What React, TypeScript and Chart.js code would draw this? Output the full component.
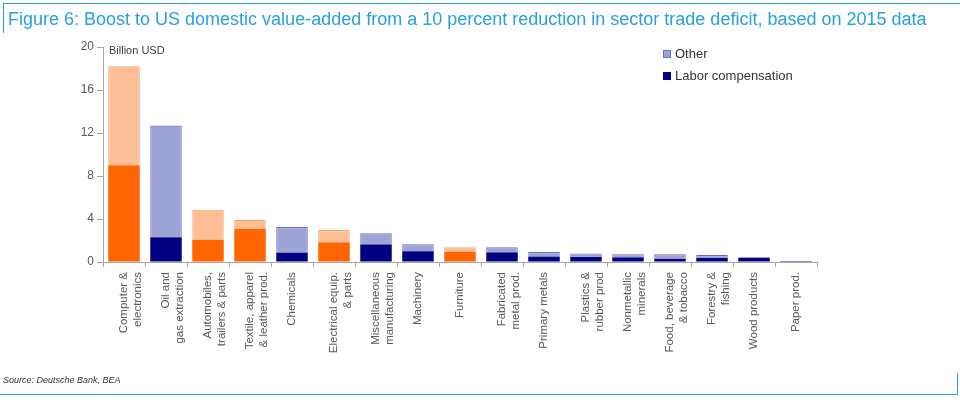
import React, { useEffect, useRef } from "react";
import { Chart, registerables } from "chart.js";

Chart.register(...registerables);

const categories: (string | string[])[] = [
  ["Computer &", "electronics"],
  ["Oil and", "gas extraction"],
  ["Automobiles,", "trailers & parts"],
  ["Textile, apparel", "& leather prod."],
  "Chemicals",
  ["Electrical equip.", "& parts"],
  ["Miscellaneous", "manufacturing"],
  "Machinery",
  "Furniture",
  ["Fabricated", "metal prod."],
  "Primary metals",
  ["Plastics &", "rubber prod"],
  ["Nonmetallic", "minerals"],
  ["Food, beverage", "& tobacco"],
  ["Forestry &", "fishing"],
  "Wood products",
  "Paper prod.",
];

const laborCompensation = [9.0, 2.3, 2.05, 3.1, 0.87, 1.83, 1.64, 1.0, 0.97, 0.9, 0.5, 0.48, 0.43, 0.3, 0.37, 0.4, 0.02];
const otherValueAdded = [9.2, 10.4, 2.82, 0.83, 2.38, 1.15, 1.03, 0.64, 0.4, 0.47, 0.43, 0.32, 0.3, 0.42, 0.28, 0.05, 0.1];
const highlighted = [true, false, true, true, false, true, false, false, true, false, false, false, false, false, false, false, false];

const yTicks = [0, 4, 8, 12, 16, 20];

const NAVY = "#000080";
const LAVENDER = "#9EA3D6";
const LAVENDER_BORDER = "#6A70C2";
const ORANGE = "#FF6600";
const LIGHT_ORANGE = "#FCBE97";
const LIGHT_ORANGE_BORDER = "#F9A470";
const AXIS = "#A6A6A6";
const TEXT = "#595959";

const legendPlugin = {
  id: "customLegend",
  afterDraw(chart: any) {
    const ctx = chart.ctx;
    ctx.save();
    const items = [
      { label: "Other", fill: LAVENDER, stroke: LAVENDER_BORDER, y: 54 },
      { label: "Labor compensation", fill: NAVY, stroke: NAVY, y: 76 },
    ];
    ctx.font = "13px 'Liberation Sans', Arial, sans-serif";
    ctx.textBaseline = "middle";
    for (const it of items) {
      ctx.fillStyle = it.fill;
      ctx.fillRect(663, it.y - 4, 8, 8);
      ctx.strokeStyle = it.stroke;
      ctx.lineWidth = 1;
      ctx.strokeRect(663.5, it.y - 3.5, 7, 7);
      ctx.fillStyle = "#333333";
      ctx.fillText(it.label, 675, it.y);
    }
    ctx.font = "11px 'Liberation Sans', Arial, sans-serif";
    ctx.fillStyle = "#404040";
    ctx.textBaseline = "middle";
    ctx.fillText("Billion USD", 109, 51);
    ctx.restore();
  },
};

export default function App() {
  const ref = useRef<HTMLCanvasElement | null>(null);

  useEffect(() => {
    document.body.style.margin = "0";
    if (!ref.current) return;
    const chart = new Chart(ref.current, {
      type: "bar",
      data: {
        labels: categories,
        datasets: [
          {
            label: "Labor compensation",
            data: laborCompensation,
            backgroundColor: highlighted.map((h) => (h ? ORANGE : NAVY)),
            borderColor: highlighted.map((h) => (h ? ORANGE : NAVY)),
            borderWidth: 0,
            barPercentage: 0.75,
            categoryPercentage: 1,
          },
          {
            label: "Other",
            data: otherValueAdded,
            backgroundColor: highlighted.map((h) => (h ? LIGHT_ORANGE : LAVENDER)),
            borderColor: highlighted.map((h) => (h ? LIGHT_ORANGE_BORDER : LAVENDER_BORDER)),
            borderWidth: 1.2,
            borderSkipped: "bottom",
            barPercentage: 0.75,
            categoryPercentage: 1,
          },
        ],
      },
      options: {
        animation: false,
        responsive: false,
        maintainAspectRatio: false,
        layout: { padding: { left: 0, top: 47, right: 143, bottom: 0 } },
        plugins: {
          legend: { display: false },
          tooltip: { enabled: false },
        },
        scales: {
          x: {
            stacked: true,
            grid: {
              display: true,
              drawOnChartArea: false,
              drawTicks: true,
              tickLength: 5,
              color: AXIS,
              offset: true,
            },
            border: { display: true, color: AXIS, width: 1 },
            ticks: {
              autoSkip: false,
              maxRotation: 90,
              minRotation: 90,
              padding: 5,
              color: TEXT,
              font: { family: "'Liberation Sans', Arial, sans-serif", size: 11.5, lineHeight: 1.2 },
            },
            afterFit: (s: any) => {
              s.height = 138;
            },
          },
          y: {
            stacked: true,
            min: 0,
            max: 20,
            afterBuildTicks: (s: any) => {
              s.ticks = yTicks.map((v) => ({ value: v }));
            },
            grid: {
              display: true,
              drawOnChartArea: false,
              drawTicks: true,
              tickLength: 6,
              color: AXIS,
            },
            border: { display: true, color: AXIS, width: 1 },
            ticks: {
              padding: 3,
              color: TEXT,
              font: { family: "'Liberation Sans', Arial, sans-serif", size: 12 },
            },
            afterFit: (s: any) => {
              s.width = 103;
            },
          },
        },
      },
      plugins: [legendPlugin],
    });
    return () => chart.destroy();
  }, []);

  const blue = "#28A0DA";
  return (
    <div style={{ position: "relative", width: 960, height: 400, background: "#fff", overflow: "hidden" }}>
      <canvas ref={ref} width={960} height={400} style={{ position: "absolute", left: 0, top: 0 }} />
      <div style={{ position: "absolute", left: 3, top: 3, width: 957, height: 1, background: blue }} />
      <div style={{ position: "absolute", left: 3, top: 3, width: 1, height: 30, background: blue }} />
      <div
        style={{
          position: "absolute",
          left: 8,
          top: 8,
          color: blue,
          fontFamily: "'Liberation Sans Narrow', 'Liberation Sans', Arial, sans-serif",
          fontSize: 18,
          whiteSpace: "nowrap",
          lineHeight: "22px",
        }}
      >
        Figure 6: Boost to US domestic value-added from a 10 percent reduction in sector trade deficit, based on 2015 data
      </div>
      <div
        style={{
          position: "absolute",
          left: 3,
          top: 375,
          color: "#333",
          fontFamily: "'Liberation Sans', Arial, sans-serif",
          fontStyle: "italic",
          fontSize: 9,
          whiteSpace: "nowrap",
        }}
      >
        Source: Deutsche Bank, BEA
      </div>
      <div style={{ position: "absolute", left: 0, top: 394, width: 958, height: 1, background: blue }} />
      <div style={{ position: "absolute", left: 957, top: 373, width: 1, height: 22, background: blue }} />
    </div>
  );
}
